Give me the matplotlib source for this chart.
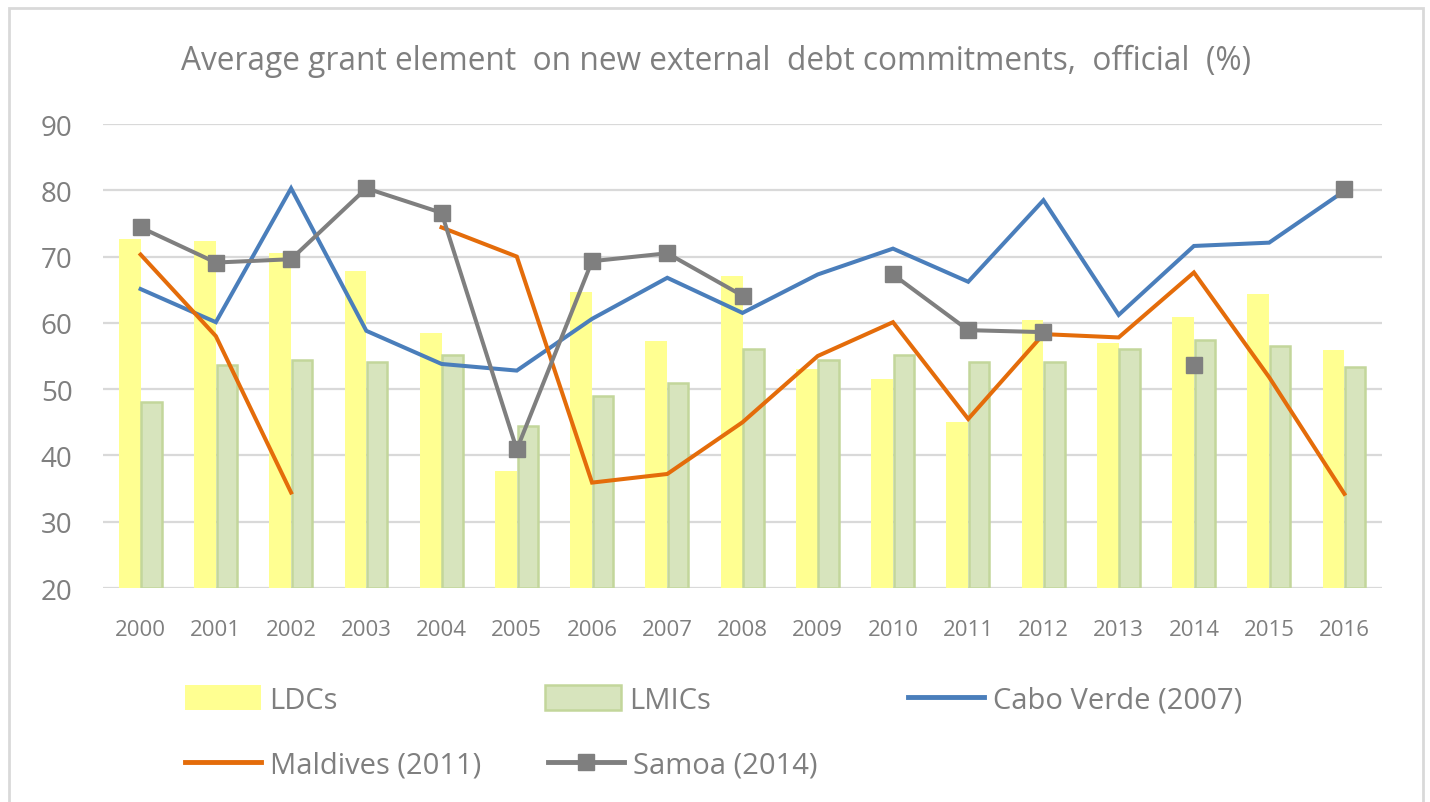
import matplotlib
matplotlib.use("Agg")
import matplotlib.pyplot as plt
import numpy as np
from matplotlib.lines import Line2D
from matplotlib.patches import Patch, Rectangle

years = ["2000", "2001", "2002", "2003", "2004", "2005", "2006", "2007", "2008",
         "2009", "2010", "2011", "2012", "2013", "2014", "2015", "2016"]
ldcs = [72.7, 72.4, 70.6, 67.8, 58.5, 37.6, 64.7, 57.2, 67.1, 53.0, 51.6, 45.1,
        60.4, 56.9, 60.9, 64.4, 55.9]
lmics = [48.1, 53.6, 54.4, 54.1, 55.2, 44.4, 49.0, 50.9, 56.0, 54.4, 55.2, 54.1,
         54.1, 56.0, 57.4, 56.5, 53.4]
cabo_verde = [65.1, 60.1, 80.3, 58.8, 53.8, 52.8, 60.6, 66.8, 61.5, 67.3, 71.2, 66.2,
              78.5, 61.2, 71.6, 72.1, 79.9]
maldives = [70.3, 58.0, 34.4, np.nan, 74.4, 70.0, 35.9, 37.2, 45.0, 55.0, 60.1, 45.5,
            58.3, 57.8, 67.6, 51.8, 34.2]
samoa = [74.4, 69.1, 69.6, 80.3, 76.6, 40.9, 69.3, 70.5, 64.1, np.nan, 67.3, 58.9,
         58.6, np.nan, 53.6, np.nan, 80.2]
yticks = [20, 30, 40, 50, 60, 70, 80, 90]

C_LDC = "#FFFF91"
C_LMIC = "#D7E4BD"
C_LMIC_E = "#C3D69B"
C_BLUE = "#4A7EBB"
C_ORANGE = "#E46C0A"
C_GRAY = "#7F7F7F"
C_TEXT = "#7F7F7F"
C_GRID = "#D9D9D9"
FONT = "Open Sans"

W, H = 1430, 803
fig = plt.figure(figsize=(W / 100, H / 100), dpi=100)
ax = fig.add_axes([103 / W, 1 - 589 / H, (1382 - 103) / W, (589 - 125) / H])

x = np.arange(len(years))
w = 0.29
ax.bar(x - w / 2, np.array(ldcs) - 20, w, bottom=20, color=C_LDC, edgecolor="none", zorder=2)
ax.bar(x + w / 2, np.array(lmics) - 20, w - 0.02, bottom=20, color=C_LMIC,
       edgecolor=C_LMIC_E, linewidth=1.8, zorder=2)
ax.plot(x, cabo_verde, color=C_BLUE, lw=2.9, zorder=3, solid_joinstyle="miter")
ax.plot(x, maldives, color=C_ORANGE, lw=2.9, zorder=3, solid_joinstyle="miter")
ax.plot(x, samoa, color=C_GRAY, lw=2.9, marker="s", markersize=12, zorder=4,
        solid_joinstyle="miter")

ax.set_xlim(-0.5, len(years) - 0.5)
ax.set_ylim(20, 90)
ax.set_yticks(yticks)
ax.set_xticks(x)
ax.set_xticklabels(years)
for y in yticks:
    ax.axhline(y, color=C_GRID, lw=1.6, zorder=1)
for s in ax.spines.values():
    s.set_visible(False)
ax.tick_params(axis="both", length=0, colors=C_TEXT)
ax.tick_params(axis="y", labelsize=20, pad=22)
ax.tick_params(axis="x", labelsize=16, pad=22)
for lab in ax.get_yticklabels() + ax.get_xticklabels():
    lab.set_fontfamily(FONT)

fig.text(716 / W, 1 - 61 / H,
         "Average grant element  on new external  debt commitments,  official  (%)",
         ha="center", va="center", fontsize=22.8, color=C_TEXT, family=FONT)

entries = [
    (Patch(facecolor=C_LDC, edgecolor="none"), "LDCs", 185, 701),
    (Patch(facecolor=C_LMIC, edgecolor=C_LMIC_E, linewidth=1.8), "LMICs", 545, 701),
    (Line2D([], [], color=C_BLUE, lw=3.5), "Cabo Verde (2007)", 908, 701),
    (Line2D([], [], color=C_ORANGE, lw=3.5), "Maldives (2011)", 185, 766),
    (Line2D([], [], color=C_GRAY, lw=3.5, marker="s", markersize=12), "Samoa (2014)", 548, 766),
]
for h, lab, lx, ly in entries:
    leg = fig.legend([h], [lab], loc="center left", bbox_to_anchor=(lx / W, 1 - ly / H),
                     frameon=False, prop={"family": FONT, "size": 21},
                     handlelength=2.6, handleheight=0.9, handletextpad=0.3,
                     borderpad=0, borderaxespad=0, numpoints=1)
    for t in leg.get_texts():
        t.set_color(C_TEXT)

fig.patches.append(Rectangle((9 / W, -0.01), (1423 - 9) / W, 1 - 9 / H + 0.01,
                             transform=fig.transFigure, fill=False,
                             edgecolor="#D9D9D9", lw=2))

fig.savefig("out.png", dpi=100)
